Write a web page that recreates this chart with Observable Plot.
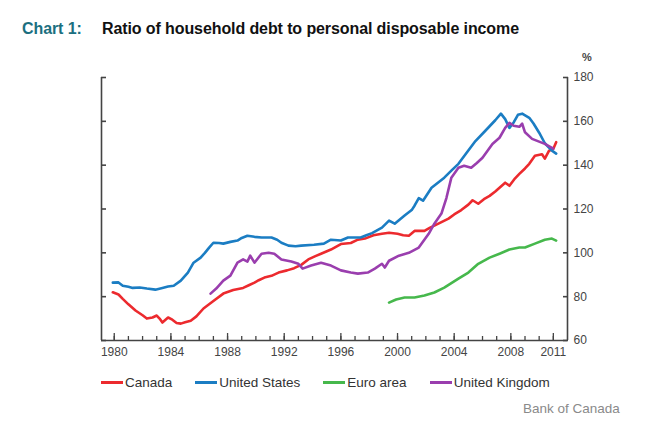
<!DOCTYPE html>
<html>
<head>
<meta charset="utf-8">
<script src="https://cdn.jsdelivr.net/npm/d3@7"></script>
<script src="https://cdn.jsdelivr.net/npm/@observablehq/plot@0.6"></script>
<style>
  html, body { margin: 0; padding: 0; background: #fff; }
  #wrap { position: relative; width: 660px; height: 426px; font-family: "Liberation Sans", Arial, sans-serif; }
  #title { position: absolute; left: 22px; top: 20px; font-size: 16px; font-weight: bold; letter-spacing: -0.1px; white-space: nowrap; z-index: 2; }
  #title .num { color: #1b6f80; display: inline-block; width: 80px; }
  #title .txt { color: #111; }
  #pct { position: absolute; left: 582px; top: 51px; font-size: 11px; font-weight: bold; color: #444; z-index: 2; }
  #chart { position: absolute; left: 0; top: 45px; z-index: 1; }
  #legend { position: absolute; left: 101px; top: 375px; font-size: 13.5px; color: #333; white-space: nowrap; z-index: 2; }
  #legend span.item { display: inline-block; margin-right: 23px; }
  #legend span.sw { display: inline-block; width: 22px; height: 3px; vertical-align: middle; margin-right: 2px; position: relative; top: -1px; }
  #caption { position: absolute; left: 523px; top: 401px; font-size: 13.5px; color: #8a8a8a; z-index: 2; }
</style>
</head>
<body>
<div id="wrap">
  <div id="title"><span class="num">Chart 1:</span><span class="txt">Ratio of household debt to personal disposable income</span></div>
  <div id="chart"></div>
  <div id="pct">%</div>
  <div id="legend"></div>
  <div id="caption">Bank of Canada</div>
</div>
<script>
// ---- data (year, ratio in %) ----
const canada = [
  [1979.9, 82], [1980.3, 81], [1980.6, 79], [1981.0, 76.5], [1981.5, 73.7], [1982.0, 71.5],
  [1982.3, 70], [1982.7, 70.5], [1983.0, 71.4], [1983.2, 70], [1983.4, 68.2], [1983.8, 70.5],
  [1984.1, 69.5], [1984.4, 68], [1984.7, 67.7], [1985.0, 68.3], [1985.4, 69], [1985.8, 71],
  [1986.3, 74.6], [1987.0, 78], [1987.7, 81.4], [1988.4, 83], [1989.1, 84], [1989.5, 85.2],
  [1989.9, 86.4], [1990.2, 87.5], [1990.6, 88.7], [1991.1, 89.5], [1991.6, 91], [1992.2, 92],
  [1992.7, 93], [1993.2, 94.5], [1993.7, 97], [1994.2, 98.5], [1994.6, 99.6], [1995.3, 101.5],
  [1996.0, 104], [1996.7, 104.5], [1997.2, 106], [1997.7, 106.5], [1998.3, 108], [1998.9, 108.7],
  [1999.4, 109.2], [2000.0, 108.7], [2000.4, 108], [2000.8, 107.8], [2001.2, 110], [2001.9, 110],
  [2002.3, 111.5], [2002.6, 112.4], [2003.1, 114], [2003.6, 115.6], [2004.0, 117.5], [2004.5, 119.5],
  [2005.0, 122], [2005.3, 124], [2005.7, 122.4], [2006.1, 124.5], [2006.5, 126], [2006.9, 128],
  [2007.2, 129.7], [2007.6, 132], [2007.9, 130.6], [2008.3, 134], [2008.6, 136], [2009.0, 138.5],
  [2009.3, 140.6], [2009.7, 144.3], [2010.2, 145], [2010.4, 143], [2010.7, 146.6], [2011.0, 147.5],
  [2011.2, 150.5]
];
const unitedStates = [
  [1979.9, 86.4], [1980.3, 86.5], [1980.6, 85], [1981.0, 84.5], [1981.3, 84], [1981.8, 84.2],
  [1982.3, 83.7], [1982.9, 83.2], [1983.4, 84], [1983.8, 84.6], [1984.2, 85], [1984.7, 87.3],
  [1985.2, 91], [1985.6, 95.5], [1986.1, 97.8], [1986.4, 100], [1986.7, 102.4], [1987.0, 104.6],
  [1987.4, 104.5], [1987.7, 104.2], [1988.2, 105], [1988.7, 105.6], [1989.0, 106.8], [1989.4, 107.8],
  [1989.9, 107.3], [1990.4, 107], [1991.1, 107], [1991.5, 106], [1991.8, 104.6], [1992.3, 103.3],
  [1992.8, 103], [1993.2, 103.3], [1994.1, 103.7], [1994.8, 104.2], [1995.3, 106], [1996.0, 105.6],
  [1996.5, 107], [1997.4, 107], [1997.8, 108], [1998.2, 109], [1998.9, 111.5], [1999.4, 114.7],
  [1999.8, 113.3], [2000.5, 117], [2001.0, 119.5], [2001.2, 121.5], [2001.5, 125], [2001.8, 123.8],
  [2002.4, 129.7], [2003.3, 134.3], [2003.8, 137.5], [2004.3, 140.6], [2004.8, 145], [2005.5, 151],
  [2006.2, 155.7], [2006.9, 160.5], [2007.3, 163.5], [2007.6, 161], [2007.9, 157], [2008.2, 159.5],
  [2008.5, 163], [2008.8, 163.5], [2009.3, 161.6], [2009.6, 159], [2010.0, 154.8], [2010.4, 150],
  [2010.9, 146.6], [2011.2, 145.3]
];
const euroArea = [
  [1999.4, 77.3], [1999.9, 78.7], [2000.5, 79.6], [2001.2, 79.6], [2001.9, 80.5], [2002.6, 81.9],
  [2003.3, 84.1], [2004.3, 88.2], [2005.0, 91], [2005.7, 95], [2006.5, 97.8], [2007.2, 99.6],
  [2007.9, 101.5], [2008.6, 102.4], [2009.0, 102.4], [2009.7, 104.2], [2010.4, 106], [2010.9, 106.5],
  [2011.2, 105.6]
];
const unitedKingdom = [
  [1986.8, 81.4], [1987.2, 83.7], [1987.7, 87.3], [1988.2, 89.6], [1988.7, 95.5], [1989.1, 97],
  [1989.4, 96], [1989.6, 98.7], [1989.9, 95.5], [1990.4, 99.6], [1990.9, 100], [1991.3, 99.6],
  [1991.8, 97], [1992.5, 96], [1993.0, 95], [1993.3, 92.8], [1993.9, 94.2], [1994.6, 95.5],
  [1995.3, 94.2], [1996.0, 92], [1996.7, 91], [1997.2, 90.5], [1997.9, 91], [1998.4, 92.8],
  [1998.9, 95], [1999.1, 93.3], [1999.4, 96.4], [2000.1, 98.7], [2000.8, 100], [2001.5, 102.4],
  [2002.2, 108.7], [2002.6, 113.3], [2003.1, 117.9], [2003.45, 125], [2003.8, 134.3], [2004.3, 138.8],
  [2004.7, 139.7], [2005.2, 138.8], [2005.6, 141], [2006.0, 143.4], [2006.7, 149.7], [2007.2, 152.5],
  [2007.6, 157], [2007.9, 159.3], [2008.2, 158], [2008.6, 157.5], [2008.8, 158.9], [2009.0, 155],
  [2009.5, 152], [2010.4, 149.7], [2011.0, 147.5]
];

const seriesNames = ["Canada", "United States", "Euro area", "United Kingdom"];
const seriesColors = ["#ec2a2e", "#1b7dc3", "#46b84c", "#9a3eae"];
const yTicks = [60, 80, 100, 120, 140, 160, 180];
const xLabelYears = [1980, 1984, 1988, 1992, 1996, 2000, 2004, 2008, 2011];
const xMinorYears = d3.range(1980, 2012);
const xDomain = [1979.1, 2012];
const yDomain = [60, 180];

const seriesData = [canada, unitedStates, euroArea, unitedKingdom];
const rows = seriesData.flatMap((s, i) => s.map(([year, value]) => ({series: seriesNames[i], year, value})));

const axisColor = "#444";
const chart = Plot.plot({
  width: 660,
  height: 320,
  marginTop: 32,
  marginBottom: 25,
  marginLeft: 101,
  marginRight: 93,
  style: {fontFamily: "Liberation Sans, Arial, sans-serif", fontSize: "12px", color: "#444", background: "transparent"},
  x: {domain: xDomain},
  y: {domain: yDomain},
  color: {domain: seriesNames, range: seriesColors},
  marks: [
    Plot.line(rows, {x: "year", y: "value", z: "series", stroke: "series", strokeWidth: 2.6, curve: "linear", strokeLinejoin: "round"}),
    // frame lines (left, right, bottom)
    Plot.ruleX(xDomain, {stroke: axisColor, strokeWidth: 1.6}),
    Plot.ruleY([yDomain[0]], {stroke: axisColor, strokeWidth: 1.6}),
    // y ticks pointing inward
    Plot.axisY({anchor: "left", ticks: yTicks, tickSize: -5, tickFormat: () => "", label: null, stroke: axisColor, strokeWidth: 1.6}),
    Plot.axisY({anchor: "right", ticks: yTicks, tickSize: -5, tickFormat: () => "", label: null, stroke: axisColor, strokeWidth: 1.6}),
    Plot.axisY({anchor: "right", ticks: yTicks, tickSize: 0, tickPadding: 6, label: null, fill: "#444", fontSize: 12}),
    // x ticks pointing inward
    Plot.axisX({anchor: "bottom", ticks: xMinorYears, tickSize: -4, tickFormat: () => "", label: null, stroke: axisColor, strokeWidth: 1.3}),
    Plot.axisX({anchor: "bottom", ticks: xLabelYears, tickSize: -7, tickFormat: () => "", label: null, stroke: axisColor, strokeWidth: 1.3}),
    Plot.axisX({anchor: "bottom", ticks: xLabelYears, tickSize: 0, tickPadding: 7, tickFormat: d => String(d), label: null, fill: "#444", fontSize: 12})
  ]
});
document.getElementById("chart").appendChild(chart);

const legend = document.getElementById("legend");
seriesNames.forEach((name, i) => {
  const item = document.createElement("span");
  item.className = "item";
  const sw = document.createElement("span");
  sw.className = "sw";
  sw.style.background = seriesColors[i];
  item.appendChild(sw);
  item.appendChild(document.createTextNode(name));
  legend.appendChild(item);
});
</script>
</body>
</html>
